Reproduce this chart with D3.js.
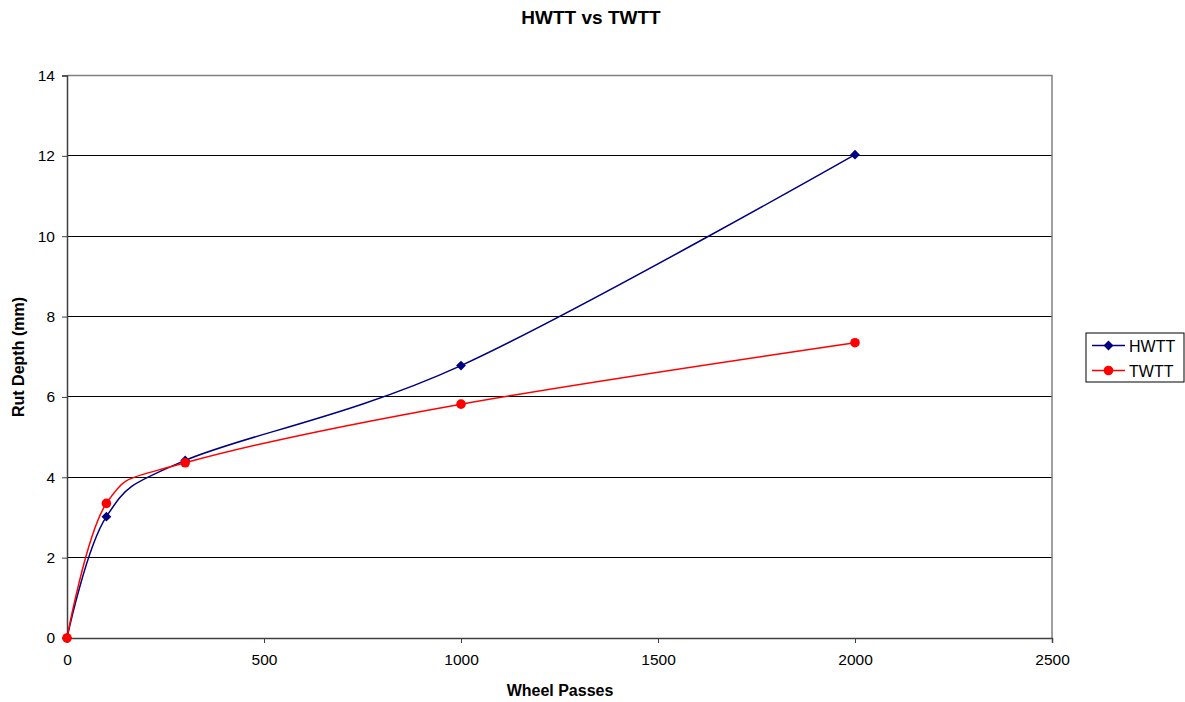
<!DOCTYPE html>
<html><head><meta charset="utf-8">
<script src="https://cdn.jsdelivr.net/npm/d3@7"></script>
<style>body{margin:0;background:#fff;}svg{display:block;font-family:"Liberation Sans",Arial,sans-serif;}</style>
</head><body>
<svg id="c" width="1185" height="702"></svg>
<script>
const passes = [0, 100, 300, 1000, 2000];
const hwtt = [0, 3.02, 4.42, 6.78, 12.03];
const twtt = [0, 3.35, 4.36, 5.82, 7.35];
const xTicks = [0, 500, 1000, 1500, 2000, 2500];
const yTicks = [0, 2, 4, 6, 8, 10, 12, 14];
const seriesNames = ["HWTT", "TWTT"];
const seriesColors = ["#000080", "#ff0000"];

const svg = d3.select("#c");
const L = 67, R = 1052, T = 75.5, B = 638;
const x = d3.scaleLinear().domain([0, 2500]).range([L, R]);
const y = d3.scaleLinear().domain([0, 14]).range([B, T]);

// gridlines
svg.append("g").selectAll("line").data(yTicks.filter(d => d > 0 && d < 14)).join("line")
  .attr("x1", L).attr("x2", R).attr("y1", d => y(d)).attr("y2", d => y(d))
  .attr("stroke", "#000").attr("stroke-width", 1).attr("shape-rendering", "crispEdges");
// plot border top/right
svg.append("path").attr("d", `M${L},${T}H${R}V${B}`).attr("fill", "none")
  .attr("stroke", "#808080").attr("stroke-width", 1.5);

const xa = svg.append("g").attr("transform", `translate(0,${B})`)
  .call(d3.axisBottom(x).tickValues(xTicks).tickSize(5).tickPadding(11).tickFormat(d3.format("d")));
const ya = svg.append("g").attr("transform", `translate(${L},0)`)
  .call(d3.axisLeft(y).tickValues(yTicks).tickSize(5).tickPadding(7).tickFormat(d3.format("d")));
[xa, ya].forEach(a => {
  a.attr("font-size", 15.5).attr("font-family", "Liberation Sans, Arial, sans-serif");
  a.select(".domain").attr("stroke", "#404040").attr("stroke-width", 1.5);
  a.selectAll(".tick line").attr("stroke", "#404040");
  a.selectAll("text").attr("fill", "#000");
});

const line = d3.line().x(d => x(d[0])).y(d => y(d[1])).curve(d3.curveCardinal.tension(0));
const data = [hwtt, twtt].map(v => passes.map((p, i) => [p, v[i]]));

data.forEach((pts, k) => {
  svg.append("path").datum(pts).attr("d", line).attr("fill", "none")
    .attr("stroke", seriesColors[k]).attr("stroke-width", 1.5);
});
// markers
const diamond = d3.symbol().type(d3.symbolSquare).size(48);
svg.append("g").selectAll("path").data(data[0]).join("path")
  .attr("transform", d => `translate(${x(d[0])},${y(d[1])}) rotate(45)`).attr("d", diamond).attr("fill", seriesColors[0]);
svg.append("g").selectAll("circle").data(data[1]).join("circle")
  .attr("cx", d => x(d[0])).attr("cy", d => y(d[1])).attr("r", 4.8).attr("fill", seriesColors[1]);

// titles
svg.append("text").attr("x", 591).attr("y", 24).attr("text-anchor", "middle")
  .attr("font-size", 19).attr("font-weight", "bold").text("HWTT vs TWTT");
svg.append("text").attr("x", 560).attr("y", 696).attr("text-anchor", "middle")
  .attr("font-size", 16).attr("font-weight", "bold").text("Wheel Passes");
svg.append("text").attr("transform", `translate(24,357) rotate(-90)`).attr("text-anchor", "middle")
  .attr("font-size", 16).attr("font-weight", "bold").text("Rut Depth (mm)");

// legend
const lg = svg.append("g");
lg.append("rect").attr("x", 1086).attr("y", 333).attr("width", 98).attr("height", 49)
  .attr("fill", "#fff").attr("stroke", "#000").attr("stroke-width", 1);
seriesNames.forEach((n, i) => {
  const yy = 345.5 + i * 25;
  lg.append("line").attr("x1", 1092).attr("x2", 1125).attr("y1", yy).attr("y2", yy)
    .attr("stroke", seriesColors[i]).attr("stroke-width", 1.5);
  if (i === 0) lg.append("path").attr("transform", `translate(1108.5,${yy}) rotate(45)`).attr("d", diamond).attr("fill", seriesColors[i]);
  else lg.append("circle").attr("cx", 1108.5).attr("cy", yy).attr("r", 4.8).attr("fill", seriesColors[i]);
  lg.append("text").attr("x", 1129).attr("y", yy + 6).attr("font-size", 16).text(n);
});
</script>
</body></html>
